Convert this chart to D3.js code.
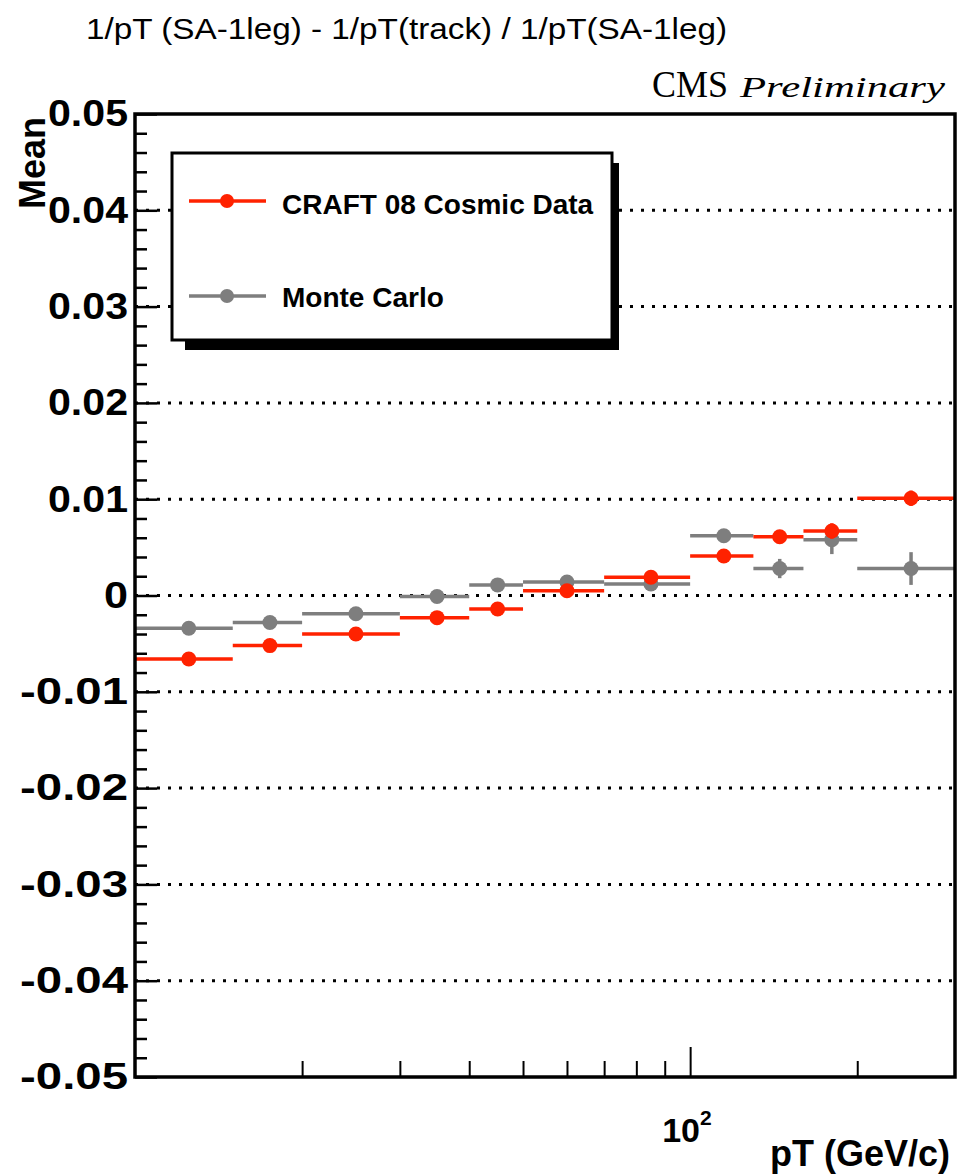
<!DOCTYPE html>
<html>
<head>
<meta charset="utf-8">
<script src="https://cdn.jsdelivr.net/npm/d3@7"></script>
<style>
  body { margin: 0; background: #fff; }
  text { font-family: "Liberation Sans", Arial, sans-serif; fill: #000; }
</style>
</head>
<body>
<div id="chart"></div>
<script>
// bin edges in pT (GeV/c)
const binEdges = [10, 15, 20, 30, 40, 50, 70, 100, 130, 160, 200, 300];
// CRAFT 08 cosmic data, mean per bin and its error
const dataMean = [-0.0066, -0.0052, -0.0040, -0.0023, -0.0014, 0.0005, 0.0019, 0.0041, 0.0061, 0.0067, 0.0101];
const dataErr  = [0.0003, 0.0003, 0.0003, 0.0003, 0.0003, 0.0003, 0.0003, 0.0004, 0.0005, 0.0008, 0.0008];
// Monte Carlo, mean per bin and its error
const mcMean = [-0.0034, -0.0028, -0.0019, -0.0001, 0.0011, 0.0014, 0.0012, 0.0062, 0.0028, 0.0058, 0.0028];
const mcErr  = [0.0002, 0.0002, 0.0002, 0.0003, 0.0003, 0.0003, 0.0004, 0.0005, 0.0010, 0.0015, 0.0017];
// axis ticks
const yTicks = [-0.05, -0.04, -0.03, -0.02, -0.01, 0, 0.01, 0.02, 0.03, 0.04, 0.05];
const yTickLabels = ["-0.05", "-0.04", "-0.03", "-0.02", "-0.01", "0", "0.01", "0.02", "0.03", "0.04", "0.05"];
const xMinorTicks = [20, 30, 40, 50, 60, 70, 80, 90, 200];
const xMajorTicks = [100];

const seriesNames = ["CRAFT 08 Cosmic Data", "Monte Carlo"];
const red = "#ff2200", grey = "#7e7e7e";

function renderChart() {
    const margin = {top: 114, right: 5, bottom: 97, left: 135},
    width = 960 - margin.left - margin.right,
    height = 1174 - margin.top - margin.bottom;

    const root = d3.select("#chart")
    .append("svg")
    .attr("width", 960)
    .attr("height", 1174)
    .style("background", "#fff");

    const svg = root.append("g")
    .attr("transform", `translate(${margin.left},${margin.top})`);

    const x = d3.scaleLog().domain([10, 300]).range([0, width]);
    const y = d3.scaleLinear().domain([-0.05, 0.05]).range([height, 0]);

    // dotted grid lines at the inner major y ticks
    svg.append("g")
    .selectAll("line")
    .data(yTicks.slice(1, -1))
    .enter()
    .append("line")
        .attr("x1", 0)
        .attr("x2", width)
        .attr("y1", d => y(d))
        .attr("y2", d => y(d))
        .attr("stroke", "#000")
        .attr("stroke-width", 3)
        .attr("stroke-dasharray", "3,8");

    // legend (white box with shadow, covers the grid)
    const leg = root.append("g");
    leg.append("rect").attr("x", 185).attr("y", 163).attr("width", 434).attr("height", 187).attr("fill", "#000");
    leg.append("rect").attr("x", 172).attr("y", 153).attr("width", 440).attr("height", 187)
        .attr("fill", "#fff").attr("stroke", "#000").attr("stroke-width", 3);
    [[red, 201, 214], [grey, 296, 307]].forEach(function(e, i) {
        leg.append("line").attr("x1", 189).attr("x2", 266).attr("y1", e[1]).attr("y2", e[1])
            .attr("stroke", e[0]).attr("stroke-width", 3.5);
        leg.append("circle").attr("cx", 227).attr("cy", e[1]).attr("r", 7).attr("fill", e[0]);
        leg.append("text").attr("x", 282).attr("y", e[2])
            .style("font-size", "28px").style("font-weight", "bold")
            .text(seriesNames[i]);
    });

    // histogram points: horizontal bin line, vertical error bar, marker
    function drawSeries(means, errs, color) {
        const rows = means.map((m, i) => ({
            lo: binEdges[i], hi: binEdges[i + 1],
            c: (binEdges[i] + binEdges[i + 1]) / 2, m: m, e: errs[i]
        }));
        const g = svg.append("g");
        g.selectAll(".bin").data(rows).enter().append("line")
            .attr("x1", d => x(d.lo)).attr("x2", d => x(d.hi))
            .attr("y1", d => y(d.m)).attr("y2", d => y(d.m))
            .attr("stroke", color).attr("stroke-width", 3.5);
        g.selectAll(".err").data(rows).enter().append("line")
            .attr("x1", d => x(d.c)).attr("x2", d => x(d.c))
            .attr("y1", d => y(d.m - d.e)).attr("y2", d => y(d.m + d.e))
            .attr("stroke", color).attr("stroke-width", 3.5);
        g.selectAll("circle").data(rows).enter().append("circle")
            .attr("cx", d => x(d.c)).attr("cy", d => y(d.m))
            .attr("r", 7.5).attr("fill", color);
    }
    drawSeries(mcMean, mcErr, grey);
    drawSeries(dataMean, dataErr, red);

    // X axis: minor and major ticks pointing inward
    svg.append("g")
    .attr("transform", `translate(0, ${height})`)
    .call(d3.axisBottom(x).tickValues(xMinorTicks).tickSize(-16).tickSizeOuter(0).tickFormat(""))
    .call(g => g.selectAll(".tick line").attr("stroke-width", 2));
    svg.append("g")
    .attr("transform", `translate(0, ${height})`)
    .call(d3.axisBottom(x).tickValues(xMajorTicks).tickSize(-30).tickSizeOuter(0).tickFormat(""))
    .call(g => g.selectAll(".tick line").attr("stroke-width", 2));

    // 10^2 label
    const lab = svg.append("text")
        .attr("x", x(xMajorTicks[0]) - 28)
        .attr("y", height + 65)
        .style("font-size", "34px").style("font-weight", "bold");
    lab.append("tspan").text("10");
    lab.append("tspan").attr("dy", -17).style("font-size", "21px").text("2");

    // Y axis minor ticks (5 subdivisions)
    const yMinor = [];
    yTicks.slice(0, -1).forEach((t, i) => {
        const step = (yTicks[i + 1] - t) / 5;
        for (let k = 1; k < 5; k++) yMinor.push(t + k * step);
    });
    svg.append("g")
    .call(d3.axisLeft(y).tickValues(yMinor).tickSize(-12).tickSizeOuter(0).tickFormat(""))
    .call(g => g.selectAll(".tick line").attr("stroke-width", 2.5));

    // Y axis major ticks and labels
    svg.append("g")
    .call(d3.axisLeft(y).tickValues(yTicks).tickSize(-22).tickSizeOuter(0).tickPadding(7)
        .tickFormat((d, i) => yTickLabels[i]))
    .call(g => g.selectAll(".tick line").attr("stroke-width", 2.5))
    .call(g => g.selectAll(".tick text")
        .style("font-size", "37px").style("font-weight", "bold")
        .style("font-family", "'Liberation Sans', Arial, sans-serif").attr("fill", "#000")
        .attr("lengthAdjust", "spacingAndGlyphs")
        .attr("textLength", d => d < 0 ? 108 : (d === 0 ? 24 : 80)));

    // frame
    svg.append("rect")
        .attr("width", width).attr("height", height)
        .attr("fill", "none").attr("stroke", "#000").attr("stroke-width", 3.5);

    // axis titles
    root.append("text")
        .attr("transform", "translate(45,117) rotate(-90)")
        .attr("text-anchor", "end")
        .style("font-size", "36px").style("font-weight", "bold")
        .text("Mean");
    root.append("text")
        .attr("x", 950).attr("y", 1166)
        .attr("text-anchor", "end")
        .style("font-size", "36px").style("font-weight", "bold")
        .text("pT (GeV/c)");

    // plot title and CMS tag
    root.append("text")
        .attr("x", 86).attr("y", 39)
        .attr("textLength", 641).attr("lengthAdjust", "spacingAndGlyphs")
        .style("font-size", "30px")
        .text("1/pT (SA-1leg) - 1/pT(track) / 1/pT(SA-1leg)");
    root.append("text")
        .attr("x", 652).attr("y", 97)
        .attr("textLength", 76).attr("lengthAdjust", "spacingAndGlyphs")
        .style("font-family", "'Liberation Serif', 'Times New Roman', serif")
        .style("font-size", "38px")
        .text("CMS");
    root.append("text")
        .attr("x", 740).attr("y", 97)
        .attr("textLength", 205).attr("lengthAdjust", "spacingAndGlyphs")
        .style("font-family", "'Liberation Serif', 'Times New Roman', serif")
        .style("font-style", "italic")
        .style("font-size", "30px")
        .text("Preliminary");
}

renderChart();
</script>
</body>
</html>
